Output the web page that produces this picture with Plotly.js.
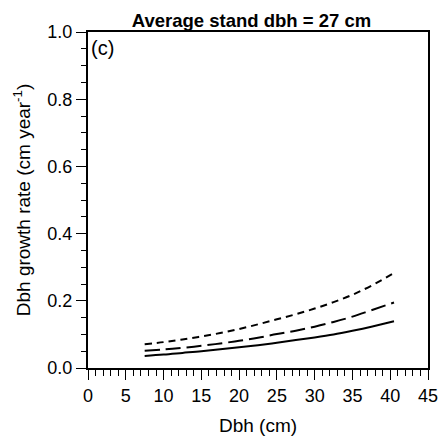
<!DOCTYPE html>
<html><head><meta charset="utf-8">
<script src="https://cdn.plot.ly/plotly-3.0.1.min.js"></script>
<style>body{margin:0;padding:0;background:#fff}#chart{width:440px;height:438px}</style>
</head><body><div id="chart"></div>
<script>
var dbh = [7.5,10,12.5,15,17.5,20,22.5,25,27.5,30,32.5,35,37.5,40.5];
var rateShortDash = [0.071,0.077,0.085,0.094,0.104,0.116,0.130,0.145,0.160,0.177,0.196,0.218,0.245,0.283];
var rateLongDash  = [0.051,0.055,0.060,0.066,0.073,0.081,0.090,0.101,0.111,0.123,0.137,0.153,0.172,0.195];
var rateSolid     = [0.036,0.040,0.045,0.050,0.056,0.062,0.068,0.075,0.083,0.091,0.100,0.111,0.123,0.139];
var titleText = "<b>Average stand dbh = 27 cm</b>";
var panelLabel = "(c)";
var xTitle = "Dbh (cm)";
var yTitle = "Dbh growth rate (cm year<sup>-1</sup>)";

var traces = [
  {x: dbh, y: rateShortDash, mode: "lines", line: {color: "#000", width: 2, dash: "7px,5px", shape: "spline"}},
  {x: dbh, y: rateLongDash, mode: "lines", line: {color: "#000", width: 2, dash: "15px,6px", shape: "spline"}},
  {x: dbh, y: rateSolid, mode: "lines", line: {color: "#000", width: 2, shape: "spline"}}
];
var fam = "Liberation Sans, Arial, sans-serif";
var tickFont = {family: fam, color: "#000", size: 18};
var axTitleFont = {family: fam, color: "#000", size: 19};
var layout = {
  width: 440, height: 438,
  margin: {l: 88, r: 12, t: 32, b: 70},
  paper_bgcolor: "#fff", plot_bgcolor: "#fff",
  showlegend: false,
  font: tickFont,
  title: {text: titleText, font: {family: fam, size: 18.5, color: "#000"}, xref: "container", x: 0.5716, xanchor: "center", yref: "container", y: 1 - 20.5/438, yanchor: "middle"},
  xaxis: {
    range: [0, 45], tickvals: [0,5,10,15,20,25,30,35,40,45],
    ticks: "outside", ticklen: 10, tickwidth: 1, tickcolor: "#000",
    minor: {dtick: 1, ticks: "outside", ticklen: 6, tickwidth: 1, tickcolor: "#000", showgrid: false},
    showline: true, linewidth: 2, linecolor: "#000", mirror: true,
    showgrid: false, zeroline: false,
    tickfont: tickFont,
    title: {text: xTitle, font: axTitleFont, standoff: 14}
  },
  yaxis: {
    range: [0, 1], tickvals: [0,0.2,0.4,0.6,0.8,1.0], tickformat: ".1f",
    ticks: "outside", ticklen: 10, tickwidth: 1, tickcolor: "#000",
    minor: {dtick: 0.05, ticks: "outside", ticklen: 5, tickwidth: 1, tickcolor: "#000", showgrid: false},
    showline: true, linewidth: 2, linecolor: "#000", mirror: true,
    showgrid: false, zeroline: false,
    tickfont: tickFont,
    title: {text: yTitle, font: axTitleFont, standoff: 12}
  },
  annotations: [
    {text: panelLabel, xref: "paper", yref: "paper", x: 0.0, y: 1.0, xanchor: "left", yanchor: "top", xshift: 1, yshift: -3, showarrow: false, font: {family: fam, size: 20, color: "#000"}}
  ]
};
Plotly.newPlot("chart", traces, layout, {displayModeBar: false, staticPlot: true});
</script></body></html>
